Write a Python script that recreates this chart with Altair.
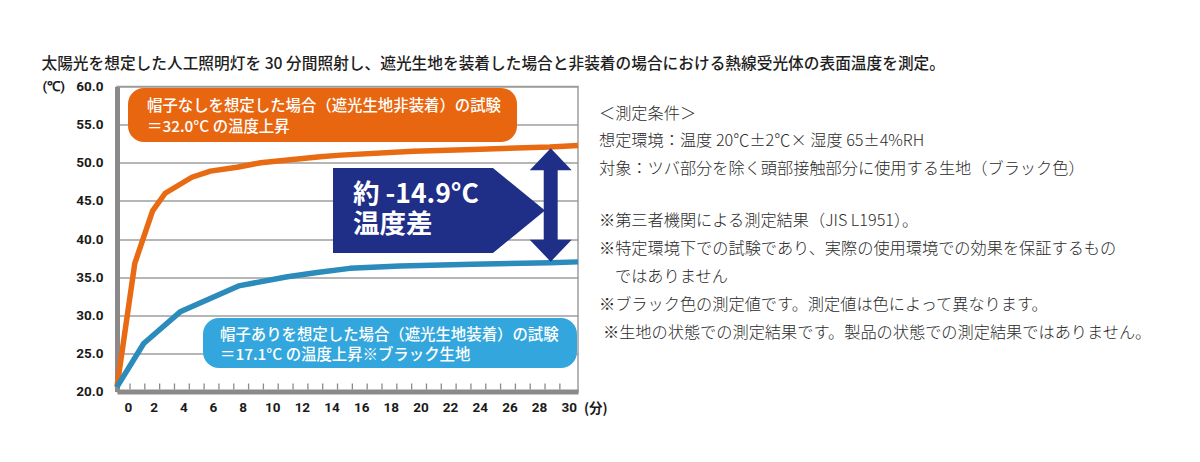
import altair as alt
import pandas as pd

# ---- data ----
ORANGE_MIN = [0, 1.2, 2.4, 3.25, 5.05, 6.3, 8.1, 9.7, 13.7, 15.1, 20, 24, 29.2, 31.1]
ORANGE_TEMP = [20.6, 36.8, 43.7, 46.0, 48.1, 48.9, 49.4, 50.0, 50.8, 51.0, 51.5, 51.75, 52.05, 52.25]
BLUE_MIN = [0, 1.8, 4.3, 8.2, 11.5, 13.5, 15.7, 19.1, 24, 29.2, 31.1]
BLUE_TEMP = [20.6, 26.3, 30.5, 33.85, 35.05, 35.6, 36.15, 36.45, 36.7, 36.9, 37.0]
Y_TICKS = [20, 25, 30, 35, 40, 45, 50, 55, 60]
X_LABELS = [0, 2, 4, 6, 8, 10, 12, 14, 16, 18, 20, 22, 24, 26, 28, 30]
TICK_MINUTES = list(range(0, 30))

TITLE = "太陽光を想定した人工照明灯を 30 分間照射し、遮光生地を装着した場合と非装着の場合における熱線受光体の表面温度を測定。"
Y_UNIT = "(℃)"
X_UNIT = "(分)"
ORANGE_BOX = ["帽子なしを想定した場合（遮光生地非装着）の試験", "＝32.0°C の温度上昇"]
BLUE_BOX = ["帽子ありを想定した場合（遮光生地装着）の試験", "＝17.1°C の温度上昇※ブラック生地"]
DIFF_TEXT = ["約 -14.9°C", "温度差"]
NOTES = [
    "＜測定条件＞",
    "想定環境：温度 20℃±2℃× 湿度 65±4%RH",
    "対象：ツバ部分を除く頭部接触部分に使用する生地（ブラック色）",
    "※第三者機関による測定結果（JIS L1951）。",
    "※特定環境下での試験であり、実際の使用環境での効果を保証するもの",
    "ではありません",
    "※ブラック色の測定値です。測定値は色によって異なります。",
    "※生地の状態での測定結果です。製品の状態での測定結果ではありません。",
]

# ---- styles ----
W, H = 461, 305
ORANGE = "#E8660F"
ORANGE_LINE = "#E86A12"
BLUE_BOX_C = "#33A7DD"
BLUE_LINE = "#2B8BBA"
NAVY = "#1F2E86"
GRID = "#9E9E9E"
AXIS = "#8A8A8A"
CJK = "Noto Sans CJK JP"
NUM = "Roboto"

X_AXIS = alt.Axis(values=X_LABELS, title=None, grid=False, ticks=False, tickSize=0,
                  labelOffset=7, labelPadding=9, labelFont=NUM, labelFontWeight="bold",
                  labelFontSize=13.5, labelColor="#1a1a1a", domainColor=AXIS, domainWidth=5)
Y_AXIS = alt.Axis(values=Y_TICKS, format=".1f", title=None, grid=True, gridColor=GRID,
                  gridWidth=1.5, ticks=False, tickSize=0, labelPadding=14, labelFont=NUM,
                  labelFontWeight="bold", labelFontSize=13.5, labelColor="#1a1a1a",
                  domainColor=AXIS, domainWidth=5)
XS = alt.Scale(domain=[0, 31.1], nice=False, zero=False)
YS = alt.Scale(domain=[20, 60], nice=False, zero=False)

orange_df = pd.DataFrame({"minute": ORANGE_MIN, "temp": ORANGE_TEMP})
blue_df = pd.DataFrame({"minute": BLUE_MIN, "temp": BLUE_TEMP})
tick_df = pd.DataFrame({"minute": TICK_MINUTES})
one = pd.DataFrame({"k": [0]})

orange_line = alt.Chart(orange_df).mark_line(color=ORANGE_LINE, strokeWidth=5.5, strokeJoin="round").encode(
    x=alt.X("minute:Q", scale=XS, axis=X_AXIS),
    y=alt.Y("temp:Q", scale=YS, axis=Y_AXIS),
)
blue_line = alt.Chart(blue_df).mark_line(color=BLUE_LINE, strokeWidth=5.5, strokeJoin="round").encode(
    x=alt.X("minute:Q", scale=XS, axis=X_AXIS),
    y=alt.Y("temp:Q", scale=YS, axis=Y_AXIS),
)
ticks = alt.Chart(tick_df).mark_rule(color=AXIS, strokeWidth=1.3, xOffset=13).encode(
    x=alt.X("minute:Q", scale=XS, axis=X_AXIS),
    y=alt.value(H - 2),
    y2=alt.value(H - 8),
)


def text_layer(txt, x, y, size, color, weight="normal", font=CJK, align="left"):
    return alt.Chart(pd.DataFrame({"t": [txt]})).mark_text(
        align=align, baseline="middle", font=font, fontSize=size, fontWeight=weight, color=color
    ).encode(text="t:N", x=alt.value(x), y=alt.value(y))


def rect_layer(x1, x2, y1, y2, color, radius):
    return alt.Chart(one).mark_rect(color=color, cornerRadius=radius).encode(
        x=alt.value(x1), x2=alt.value(x2), y=alt.value(y1), y2=alt.value(y2)
    )


PENTAGON = "M -1 -0.401 L 0.509 -0.401 L 1 0 L 0.509 0.401 L -1 0.401 Z"
DARROW = ("M 0 -1 L 0.370 -0.612 L 0.123 -0.612 L 0.123 0.612 L 0.370 0.612 L 0 1 "
          "L -0.370 0.612 L -0.123 0.612 L -0.123 -0.612 L -0.370 -0.612 Z")

pentagon = alt.Chart(one).mark_point(shape=PENTAGON, filled=True, size=212 * 212, color=NAVY,
                                     opacity=1, strokeWidth=0).encode(x=alt.value(322), y=alt.value(124))
darrow = alt.Chart(one).mark_point(shape=DARROW, filled=True, size=113.4 * 113.4, color=NAVY,
                                   opacity=1, strokeWidth=0).encode(x=alt.value(433.7), y=alt.value(118.5))

layers = [ticks, orange_line, blue_line,
          rect_layer(11, 400, 1.5, 55.5, ORANGE, 16),
          rect_layer(86, 460, 231.5, 281.5, BLUE_BOX_C, 16),
          pentagon, darrow]

layers.append(text_layer(ORANGE_BOX[0], 30, 19.5, 15.4, "white", 500))
layers.append(text_layer(ORANGE_BOX[1], 30, 40, 15.4, "white", 500))
layers.append(text_layer(BLUE_BOX[0], 103, 248.5, 15.4, "white", 500))
layers.append(text_layer(BLUE_BOX[1], 103, 268.5, 15.4, "white", 500))
layers.append(text_layer(DIFF_TEXT[0], 236, 108.5, 26.5, "white", "bold"))
layers.append(text_layer(DIFF_TEXT[1], 236, 138.5, 26.5, "white", "bold"))

layers.append(text_layer(TITLE, -75.5, -22.5, 15.7, "#1e1e1e", 500))
layers.append(text_layer(Y_UNIT, -74.5, 0, 13.5, "#1a1a1a", "bold", NUM))
layers.append(text_layer(X_UNIT, 467, H + 17.5, 13.5, "#1a1a1a", "bold", CJK))

NOTE_Y = [27, 54, 82, 134, 162, 190, 218, 246]
NOTE_X = [482, 482, 482, 482, 482, 498, 482, 486]
for t, nx, ny in zip(NOTES, NOTE_X, NOTE_Y):
    layers.append(text_layer(t, nx, ny, 16.2, "#2a2a2a", 300))

chart = alt.layer(*layers).properties(
    width=W, height=H,
    autosize=alt.AutoSizeParams(type="none"),
    padding={"left": 109, "top": 78.5, "right": 600, "bottom": 45},
    background="white",
).configure_view(stroke=GRID, strokeWidth=1.5)

chart.save("out.html", embed_options={"renderer": "svg", "actions": False})
